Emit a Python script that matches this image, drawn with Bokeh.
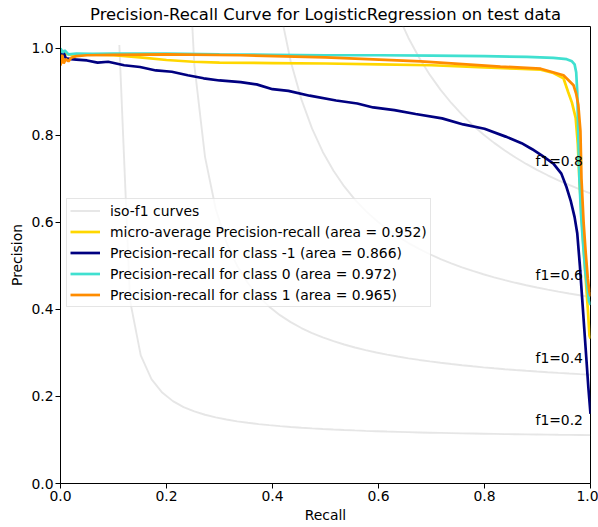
import numpy as np
from bokeh.plotting import figure
from bokeh.models import Range1d, FixedTicker, PrintfTickFormatter, Legend, LegendItem, Label
from bokeh.embed import file_html
from bokeh.resources import INLINE

# ---- data ----
f_scores = [0.2, 0.4, 0.6, 0.8]

micro_recall = [0.0, 0.005, 0.01, 0.02, 0.05, 0.1, 0.15, 0.2, 0.25, 0.3, 0.4, 0.5, 0.6, 0.7, 0.8,
                0.86, 0.906, 0.93, 0.949, 0.958, 0.965, 0.972, 0.976, 0.979, 0.983, 0.987, 0.991,
                0.995, 0.998, 1.0]
micro_precision = [0.99, 0.984, 0.987, 0.985, 0.986, 0.984, 0.979, 0.973, 0.969, 0.967, 0.966, 0.965,
                   0.963, 0.961, 0.956, 0.953, 0.951, 0.943, 0.931, 0.899, 0.875, 0.84, 0.78, 0.70,
                   0.62, 0.54, 0.47, 0.40, 0.34, 0.333]

neg_recall = [0.0, 0.003, 0.006, 0.01, 0.02, 0.03, 0.05, 0.07, 0.09, 0.12, 0.15, 0.18, 0.21, 0.24,
              0.27, 0.30, 0.34, 0.37, 0.40, 0.43, 0.47, 0.52, 0.56, 0.59, 0.63, 0.67, 0.72, 0.76,
              0.80, 0.84, 0.87, 0.89, 0.91, 0.93, 0.945, 0.955, 0.963, 0.970, 0.975, 0.980, 0.984,
              0.988, 0.992, 0.996, 1.0]
neg_precision = [1.0, 0.985, 0.99, 0.977, 0.975, 0.974, 0.972, 0.967, 0.969, 0.961, 0.957, 0.949,
                 0.946, 0.938, 0.931, 0.926, 0.922, 0.917, 0.906, 0.902, 0.891, 0.880, 0.873, 0.864,
                 0.858, 0.849, 0.839, 0.825, 0.815, 0.797, 0.782, 0.768, 0.752, 0.735, 0.712, 0.68,
                 0.648, 0.612, 0.575, 0.50, 0.43, 0.36, 0.29, 0.22, 0.16]

zero_recall = [0.0, 0.004, 0.008, 0.015, 0.03, 0.06, 0.1, 0.2, 0.3, 0.4, 0.5, 0.6, 0.7, 0.8, 0.88,
               0.93, 0.955, 0.965, 0.970, 0.973, 0.975, 0.977, 0.979, 0.982, 0.986, 0.990, 0.994,
               0.997, 1.0]
zero_precision = [1.0, 0.99, 0.995, 0.986, 0.988, 0.987, 0.988, 0.988, 0.986, 0.985, 0.984, 0.984,
                  0.983, 0.982, 0.980, 0.978, 0.975, 0.970, 0.963, 0.945, 0.90, 0.80, 0.70, 0.62,
                  0.55, 0.49, 0.45, 0.42, 0.41]

pos_recall = [0.0, 0.003, 0.006, 0.01, 0.015, 0.02, 0.03, 0.05, 0.1, 0.2, 0.34, 0.5, 0.68, 0.83,
              0.906, 0.949, 0.968, 0.973, 0.977, 0.981, 0.983, 0.987, 0.991, 0.995, 0.998, 1.0]
pos_precision = [0.96, 0.985, 0.965, 0.975, 0.97, 0.978, 0.982, 0.984, 0.985, 0.986, 0.984, 0.979,
                 0.970, 0.958, 0.953, 0.938, 0.915, 0.895, 0.87, 0.81, 0.70, 0.60, 0.53, 0.47,
                 0.44, 0.43]

labels = ["iso-f1 curves",
          "micro-average Precision-recall (area = 0.952)",
          "Precision-recall for class -1 (area = 0.866)",
          "Precision-recall for class 0 (area = 0.972)",
          "Precision-recall for class 1 (area = 0.965)"]
ticks = [0.0, 0.2, 0.4, 0.6, 0.8, 1.0]

FONT = "DejaVu Sans"
FS = "13.9px"

p = figure(width=598, height=527, output_backend="svg", toolbar_location=None,
           x_range=Range1d(0.0, 1.0), y_range=Range1d(0.0, 1.05),
           title="Precision-Recall Curve for LogisticRegression on test data",
           min_border_left=60, min_border_right=8, min_border_top=26, min_border_bottom=44)

p.title.text_font = FONT
p.title.text_font_size = "16.4px"
p.title.text_font_style = "normal"
p.title.align = "center"
p.title.text_color = "black"
p.title.standoff = 5

p.xgrid.visible = False
p.ygrid.visible = False
p.outline_line_color = "black"
p.outline_line_width = 1

for ax in (p.xaxis[0], p.yaxis[0]):
    ax.ticker = FixedTicker(ticks=ticks)
    ax.formatter = PrintfTickFormatter(format="%.1f")
    ax.minor_tick_line_color = None
    ax.major_tick_in = 0
    ax.major_tick_out = 5
    ax.major_tick_line_color = "black"
    ax.axis_line_color = "black"
    ax.major_label_text_font = FONT
    ax.major_label_text_font_size = FS
    ax.major_label_text_color = "black"
    ax.axis_label_text_font = FONT
    ax.axis_label_text_font_size = FS
    ax.axis_label_text_font_style = "normal"
    ax.axis_label_text_color = "black"
    ax.major_label_standoff = 2
    ax.axis_label_standoff = 3

p.xaxis[0].axis_label = "Recall"
p.yaxis[0].axis_label = "Precision"

items = []
iso_renderer = None
for f in f_scores:
    x = np.linspace(0.01, 1, 50)
    y = f * x / (2 * x - f)
    m = y >= 0
    r = p.line(x[m], y[m], line_color="gray", line_alpha=0.2, line_width=1.9)
    if iso_renderer is None:
        iso_renderer = r
    p.add_layout(Label(x=0.9, y=float(y[45]) + 0.02, text="f1={0:0.1f}".format(f),
                       x_offset=-2, y_offset=6,
                       text_font=FONT, text_font_size=FS, text_color="black",
                       text_baseline="alphabetic", text_align="left"))
items.append(LegendItem(label=labels[0], renderers=[iso_renderer]))

series = [(micro_recall, micro_precision, "gold"),
          (neg_recall, neg_precision, "navy"),
          (zero_recall, zero_precision, "turquoise"),
          (pos_recall, pos_precision, "darkorange")]
for i, (rx, ry, c) in enumerate(series):
    r = p.line(rx, ry, line_color=c, line_width=2.7)
    items.append(LegendItem(label=labels[i + 1], renderers=[r]))

legend = Legend(items=items, location=(6, 176))
legend.label_text_font = FONT
legend.label_text_font_size = FS
legend.label_text_color = "black"
legend.glyph_width = 30
legend.glyph_height = 17
legend.label_height = 17
legend.label_standoff = 10
legend.spacing = 4
legend.padding = 3
legend.margin = 0
legend.border_line_color = "#cccccc"
legend.border_line_width = 1
legend.background_fill_alpha = 0.8
p.add_layout(legend)

open("out.html", "w").write(file_html(p, INLINE))
